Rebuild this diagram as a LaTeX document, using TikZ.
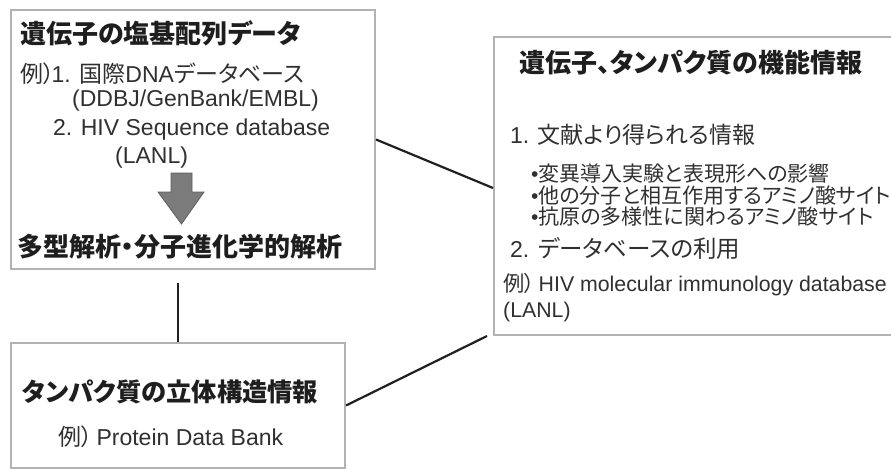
\documentclass[tikz,border=0pt]{standalone}
\usepackage{fontspec}
\setmainfont{Liberation Sans}
\newfontfamily\jp[RawFeature=+palt]{Noto Sans CJK JP}
\usetikzlibrary{calc}
\definecolor{boxgray}{HTML}{B2B2B2}
\definecolor{headtxt}{HTML}{1E1E1E}
\definecolor{bodytxt}{HTML}{303030}
\definecolor{arrowfill}{HTML}{7B7B7B}
\definecolor{arrowedge}{HTML}{5E5E5E}
\definecolor{linkcol}{HTML}{202020}
\newcommand{\J}[1]{{\jp #1}}
\newcommand{\fs}[1]{\fontsize{#1}{#1}\selectfont}
\begin{document}
\begin{tikzpicture}[x=1pt,y=-1pt,
  panel/.style={draw=boxgray,line width=2pt,inner sep=0,anchor=north west},
  link/.style={draw=linkcol,line width=2.2pt},
  head/.style={anchor=west,inner sep=0,text=headtxt,font=\jp\bfseries\fs{26}},
  body/.style={anchor=west,inner sep=0,text=bodytxt}]
\useasboundingbox (0,0) rectangle (891,469);
\fill[white] (0,0) rectangle (891,469);
% panels
\node[panel,minimum width=364,minimum height=259] (A) at (10,9) {};
\node[panel,minimum width=420,minimum height=298] (B) at (493,36) {};
\node[panel,minimum width=334,minimum height=125] (C) at (10,342) {};
% panel A
\node[head] (a1) at (20,33) {遺伝子の塩基配列データ};
\node[body,font=\fs{23}] (a2) at (20,74) {\J{例）}\hspace{-3pt}1. \J{国際}DNA\J{データベース}};
\node[body,font=\fs{23}] (a3) at (72,101) {(DDBJ/GenBank/EMBL)};
\node[body,font=\fs{23}] (a4) at (53,130) {2. HIV Sequence database};
\node[body,font=\fs{23}] (a5) at (115,158) {(LANL)};
\node[head] (a6) at (17,247) {多型解析・分子進化学的解析};
\filldraw[fill=arrowfill,draw=arrowedge,line width=0.8pt]
  (171,173) -- (192,173) -- (192,192) -- (204,192) -- (181.5,224) -- (158,192) -- (171,192) -- cycle;
% panel B
\node[head] (b1) at (519,63) {遺伝子、タンパク質の機能情報};
\node[body,font=\fs{23}] (b2) at (510,135) {1. \J{\fs{23}文献より得られる情報}};
\node[body,font=\fs{21}] (b3) at (531,174) {•\J{変異導入実験と表現形への影響}};
\node[body,font=\fs{21}] (b4) at (531,196) {•\J{他の分子と相互作用するアミノ酸サイト}};
\node[body,font=\fs{21}] (b5) at (531,217) {•\J{抗原の多様性に関わるアミノ酸サイト}};
\node[body,font=\fs{23}] (b6) at (510,248) {2. \J{\fs{23.5}データベースの利用}};
\node[body,font=\fs{21.3}] (b7) at (503,285) {\J{例）}\,HIV molecular immunology database};
\node[body,font=\fs{21.3}] (b8) at (503,312) {(LANL)};
% panel C
\node[head,font=\jp\bfseries\fs{25.3}] (c1) at (22,392) {タンパク質の立体構造情報};
\node[body,font=\fs{23}] (c2) at (58,437) {\J{例）}\,Protein Data Bank};
% connectors
\coordinate (acgap) at ($(C.north)+(0,-59)$);
\draw[link] (A.east) -- ([yshift=-2pt]B.west);
\draw[link] (C.north) -- (acgap);
\draw[link] (C.east) -- ([xshift=-6pt]B.south west);
\end{tikzpicture}
\end{document}
